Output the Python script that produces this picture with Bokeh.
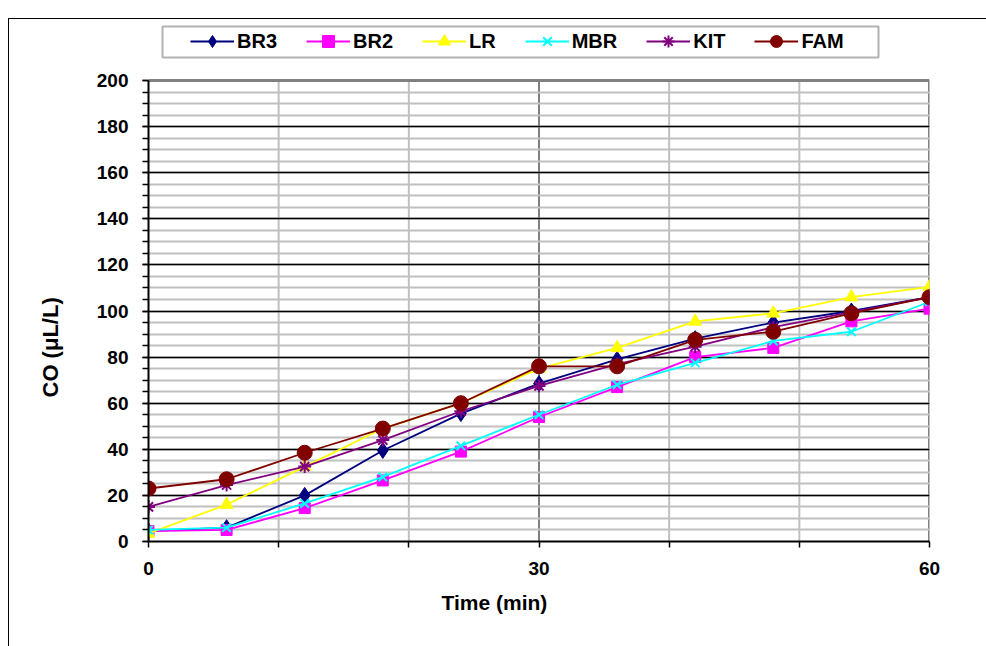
from bokeh.plotting import figure
from bokeh.models import (Range1d, FixedTicker, SingleIntervalTicker, Legend, LegendItem,
                          BoxAnnotation, Title)
from bokeh.embed import file_html
from bokeh.resources import INLINE

# ---- data ----
time_min = [0, 6, 12, 18, 24, 30, 36, 42, 48, 54, 60]
br3 = [4.5, 6, 20, 39.5, 55.5, 68.5, 79, 88, 95, 100, 106]
br2 = [4.5, 5, 14.5, 26.5, 39, 54, 67, 80, 84, 95.5, 101]
lr = [3.5, 16, 32.5, 49, 60, 75, 84, 95.5, 99, 106, 110.5]
mbr = [5, 6, 16.5, 28, 41.5, 55, 68, 77.5, 87, 91, 104]
kit = [15, 24.5, 32.5, 44, 56.5, 67.5, 77, 84.5, 93, 99.5, 106]
fam = [23, 27, 38.5, 49, 60, 76, 76, 87.5, 91, 99, 106]

series_names = ["BR3", "BR2", "LR", "MBR", "KIT", "FAM"]
series_values = [br3, br2, lr, mbr, kit, fam]
x_ticks = [0, 30, 60]
x_minor_ticks = [10, 20, 40, 50]
y_max = 200

colors = ["#000080", "#FF00FF", "#FFFF00", "#00FFFF", "#800080", "#800000"]
markers = ["diamond", "square", "triangle", "x", "asterisk", "circle"]
msizes = [16, 11, 13, 12, 13, 15]

FONT = "Liberation Sans"
Y_TOP = y_max + 60 * y_max / 461.0   # headroom in the frame for the legend

p = figure(width=986, height=646, output_backend="svg", toolbar_location=None,
           x_range=Range1d(0, 60), y_range=Range1d(0, Y_TOP),
           min_border_left=148, min_border_right=57, min_border_top=20, min_border_bottom=105,
           styles={"background": "linear-gradient(#000,#000) 8px 18px/1px 100% no-repeat, "
                                 "linear-gradient(#000,#000) 8px 18px/100% 1px no-repeat, #fff"})
p.background_fill_color = "white"
p.border_fill_color = None
p.outline_line_color = None

# axes
p.xaxis.ticker = FixedTicker(ticks=x_ticks, minor_ticks=x_minor_ticks)
p.yaxis.ticker = SingleIntervalTicker(interval=20, num_minor_ticks=4)
p.yaxis.bounds = (0, y_max)
for ax in (p.xaxis[0], p.yaxis[0]):
    ax.axis_line_color = "black"
    ax.axis_line_width = 2
    ax.major_tick_line_color = "black"
    ax.minor_tick_line_color = "black"
    ax.major_tick_line_width = 1.5
    ax.minor_tick_line_width = 1.5
    ax.major_tick_in = 0
    ax.major_tick_out = 6
    ax.minor_tick_in = 0
    ax.minor_tick_out = 6
    ax.major_label_text_font = FONT
    ax.major_label_text_font_style = "bold"
    ax.major_label_text_font_size = "19px"
    ax.major_label_text_color = "black"
    ax.major_label_standoff = 14

# horizontal grid
p.ygrid.grid_line_color = "black"
p.ygrid.grid_line_width = 1.5
p.ygrid.minor_grid_line_color = "#c0c0c0"
p.ygrid.minor_grid_line_width = 2
p.ygrid.bounds = (0, y_max - 1)
# vertical grid drawn only up to y_max
p.xgrid.visible = False
p.segment(x0=x_minor_ticks, x1=x_minor_ticks, y0=[0] * 4, y1=[y_max] * 4,
          line_color="#c0c0c0", line_width=2, level="underlay")
p.segment(x0=[30], x1=[30], y0=[0], y1=[y_max], line_color="#808080", line_width=2,
          level="underlay")
# plot-area border (top and right)
p.segment(x0=[0, 60], x1=[60, 60], y0=[y_max, 0], y1=[y_max, y_max],
          line_color="#808080", line_width=3, level="underlay")

items = []
for name, vals, c, m, s in zip(series_names, series_values, colors, markers, msizes):
    lr_ = p.line(time_min, vals, line_color=c, line_width=1.8)
    if m in ("x", "asterisk"):
        sr = p.scatter(time_min, vals, marker=m, size=s, line_color=c, line_width=2)
    else:
        sr = p.scatter(time_min, vals, marker=m, size=s, fill_color=c, line_color=c)
    items.append(LegendItem(label=name, renderers=[lr_, sr]))

legend = Legend(items=items, orientation="horizontal", location=(42, 485),
                glyph_width=44, glyph_height=30, label_standoff=3, spacing=29,
                padding=0, margin=0, border_line_alpha=0, background_fill_alpha=0,
                label_text_font=FONT, label_text_font_style="bold",
                label_text_font_size="20px", label_text_color="black")
p.add_layout(legend, "center")

# legend frame box
p.add_layout(BoxAnnotation(left=14, right=730, bottom=484, top=515,
                           left_units="screen", right_units="screen",
                           bottom_units="screen", top_units="screen",
                           fill_alpha=0, line_color="black", line_width=2))

# axis titles
p.add_layout(Title(text="Time (min)", align="left", offset=293, standoff=22,
                   text_font=FONT, text_font_style="bold", text_font_size="21px",
                   text_color="black"), "below")
p.add_layout(Title(text="CO (\u03bcL/L)", align="left", offset=144, standoff=62,
                   text_font=FONT, text_font_style="bold", text_font_size="22px",
                   text_color="black"), "left")

open("out.html", "w").write(file_html(p, INLINE))
